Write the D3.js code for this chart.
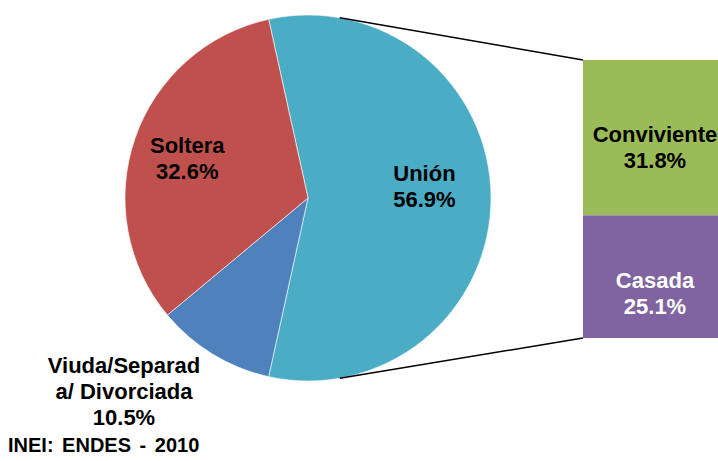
<!DOCTYPE html>
<html>
<head>
<meta charset="utf-8">
<script src="https://cdn.jsdelivr.net/npm/d3@7"></script>
<style>
  body { margin: 0; background: #fff; }
  text { font-family: "Liberation Sans", Arial, sans-serif; font-weight: bold; }
</style>
</head>
<body>
<div class="chart"></div>
<script>
// pie data
let pieCategories = ["Unión", "Viuda/Separada/Divorciada", "Soltera"]
let pieValues = [56.9, 10.5, 32.6]
let pieLines = [["Unión", "56.9%"], ["Viuda/Separad", "a/ Divorciada", "10.5%"], ["Soltera", "32.6%"]]
let pieColors = ["#4BACC6", "#4F81BD", "#C0504D"]

// breakdown of "Unión"
let barCategories = ["Conviviente", "Casada"]
let barValues = [31.8, 25.1]
let barLines = [["Conviviente", "31.8%"], ["Casada", "25.1%"]]
let barColors = ["#9BBB59", "#8064A2"]
let barTextColors = ["#000", "#fff"]

let source = "INEI: ENDES - 2010"

let width = 718, height = 461
let cx = 308, cy = 198, r = 183

let svg = d3.select('.chart')
    .append('svg')
    .attr('width', width)
    .attr('height', height)

let data = pieValues.map((v, i) => ({ name: pieCategories[i], value: v, lines: pieLines[i], color: pieColors[i] }))

// union slice centred on the right side
let unionShare = pieValues[0] / d3.sum(pieValues)
let start = Math.PI / 2 - unionShare * Math.PI

let pie = d3.pie()
    .sort(null)
    .value(d => d.value)
    .startAngle(start)
    .endAngle(start + 2 * Math.PI)

let arcs = pie(data)
let arc = d3.arc().innerRadius(0).outerRadius(r)
let labelArc = d3.arc().innerRadius(r * 0.68).outerRadius(r * 0.68)

let g = svg.append('g')
    .attr('transform', 'translate(' + cx + ',' + cy + ')')

g.selectAll('path.slice')
    .data(arcs)
    .enter()
    .append('path')
    .attr('class', 'slice')
    .attr('d', arc)
    .attr('fill', d => d.data.color)
    .attr('stroke', '#fff')
    .attr('stroke-width', 0.6)

// bar (second plot)
let barX = 583, barW = 144
let y = d3.scaleLinear()
    .domain([0, d3.sum(barValues)])
    .range([60, 338])

let stackStart = barValues.map((v, i) => d3.sum(barValues.slice(0, i)))

// connector lines from union slice to bar
let connAngle = 10 * Math.PI / 180
let p1 = [cx + r * Math.sin(connAngle), cy - r * Math.cos(connAngle)]
let p2 = [cx + r * Math.sin(Math.PI - connAngle), cy - r * Math.cos(Math.PI - connAngle)]
svg.append('line')
    .attr('x1', p1[0]).attr('y1', p1[1])
    .attr('x2', barX).attr('y2', y(0))
    .attr('stroke', '#000').attr('stroke-width', 1.5)
svg.append('line')
    .attr('x1', p2[0]).attr('y1', p2[1])
    .attr('x2', barX).attr('y2', y(d3.sum(barValues)))
    .attr('stroke', '#000').attr('stroke-width', 1.5)

svg.selectAll('rect.bar')
    .data(barValues)
    .enter()
    .append('rect')
    .attr('class', 'bar')
    .attr('x', barX)
    .attr('y', (d, i) => y(stackStart[i]))
    .attr('width', barW)
    .attr('height', d => y(d) - y(0))
    .attr('fill', (d, i) => barColors[i])

let fs = 22, lh = 26

function multiline(sel, lines, x, yc, color) {
    let t = sel.append('text')
        .attr('text-anchor', 'middle')
        .attr('font-size', fs)
        .attr('fill', color)
    let top = yc - (lines.length - 1) * lh / 2 + fs * 0.36
    lines.forEach((l, i) => {
        t.append('tspan').attr('x', x).attr('y', top + i * lh).text(l)
    })
}

// labels inside slices
arcs.forEach((a, i) => {
    if (i === 1) return
    let c = labelArc.centroid(a)
    let dy = i === 0 ? -12 : 0
    let dx = i === 0 ? -8 : -3
    multiline(svg, a.data.lines, cx + c[0] + dx, cy + c[1] + dy, '#000')
})

// outside label for the small slice
multiline(svg, arcs[1].data.lines, cx - 184, cy + 193, '#000')

let barNudge = [9, 16]
barValues.forEach((v, i) => {
    let yc = (y(stackStart[i]) + y(stackStart[i] + v)) / 2 + barNudge[i]
    multiline(svg, barLines[i], barX + barW / 2, yc, barTextColors[i])
})

svg.append('text')
    .attr('x', 8)
    .attr('y', 452)
    .attr('font-size', 20)
    .attr('word-spacing', 3)
    .text(source)
</script>
</body>
</html>
